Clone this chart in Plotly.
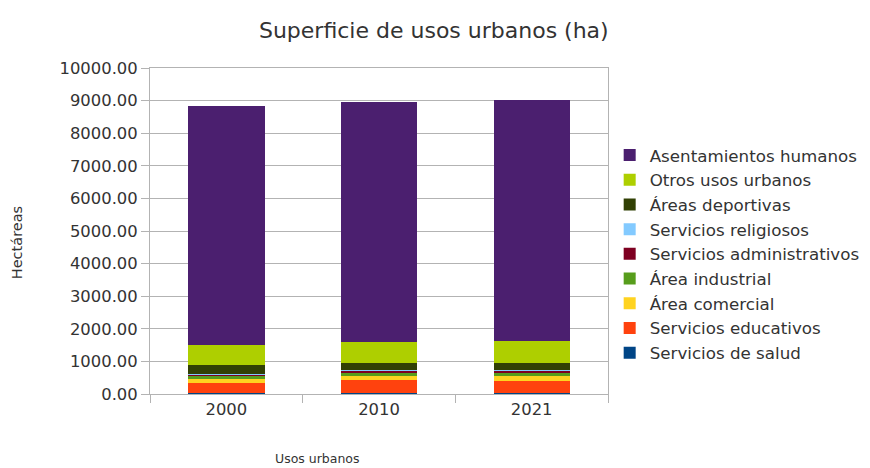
import plotly.graph_objects as go

# datos (ha)
anios = ["2000", "2010", "2021"]

salud = [20, 25, 25]
educativos = [325, 390, 370]
comercial = [120, 130, 150]
industrial = [100, 115, 120]
administrativos = [25, 50, 55]
religiosos = [10, 15, 15]
deportivas = [300, 215, 230]
otros = [595, 640, 655]
asentamientos = [7339, 7376, 7388]

series = [
    ("Servicios de salud", salud, "#004586"),
    ("Servicios educativos", educativos, "#FF420E"),
    ("Área comercial", comercial, "#FFD320"),
    ("Área industrial", industrial, "#579D1C"),
    ("Servicios administrativos", administrativos, "#7E0021"),
    ("Servicios religiosos", religiosos, "#83CAFF"),
    ("Áreas deportivas", deportivas, "#314004"),
    ("Otros usos urbanos", otros, "#AECF00"),
    ("Asentamientos humanos", asentamientos, "#4B1F6F"),
]

fig = go.Figure()
for nombre, valores, color in series:
    fig.add_trace(go.Bar(x=anios, y=valores, name=nombre,
                         marker=dict(color=color, line_width=0)))

txt = "#333333"
# la página tiene 8px de margen, por eso 862x460
fig.update_layout(
    barmode="stack",
    bargap=0.5,
    width=862, height=460,
    margin=dict(l=142, r=262, t=60, b=74, autoexpand=False),
    paper_bgcolor="white", plot_bgcolor="white",
    font=dict(family="DejaVu Sans", size=16, color=txt),
    title=dict(text="Superficie de usos urbanos (ha)", x=0.494, xref="container",
               y=0.952, yref="container", xanchor="center", yanchor="middle",
               font=dict(size=22, color=txt)),
    legend=dict(x=0.698, xref="container", xanchor="left", y=0.429, yanchor="middle",
                traceorder="reversed",
                font=dict(size=16.7, color=txt), bgcolor="rgba(0,0,0,0)"),
    showlegend=True,
)
fig.update_xaxes(showline=True, linecolor="#b3b3b3", mirror=True,
                 ticks="outside", tickson="boundaries", ticklen=8, tickcolor="#b3b3b3",
                 tickfont=dict(size=16.4, color=txt))
fig.update_yaxes(range=[0, 10000], dtick=1000, tickformat=".2f",
                 showgrid=True, gridcolor="#b3b3b3", zeroline=False,
                 showline=True, linecolor="#b3b3b3", mirror=True,
                 ticks="outside", ticklen=8, tickcolor="#b3b3b3",
                 tickfont=dict(size=16.4, color=txt))

fig.add_annotation(text="Usos urbanos", xref="paper", yref="paper", x=0.365, y=-0.197,
                   xanchor="center", yanchor="middle", showarrow=False,
                   font=dict(size=12.5, color=txt))
fig.add_annotation(text="Hectáreas", xref="paper", yref="paper", x=-0.29, y=0.463,
                   xanchor="center", yanchor="middle", showarrow=False, textangle=-90,
                   font=dict(size=14.5, color=txt))

fig.write_html("out.html")
